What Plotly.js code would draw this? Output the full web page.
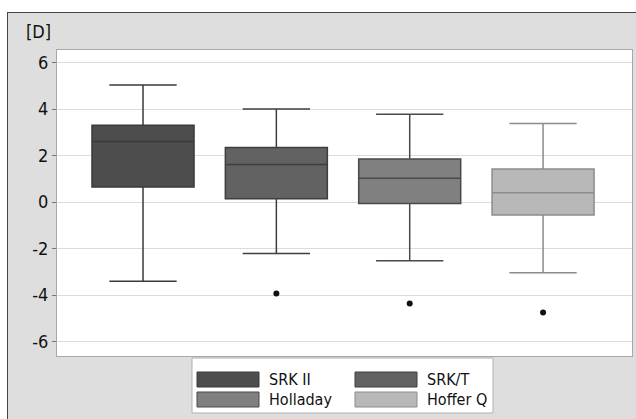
<!DOCTYPE html>
<html><head><meta charset="utf-8">
<script src="https://cdn.plot.ly/plotly-3.0.1.min.js"></script>
<style>
html,body{margin:0;padding:0;background:#fff;}
#wrap{position:absolute;left:7px;top:12px;width:629px;height:407px;border-top:1px solid #444;border-left:1px solid #444;background:#dedede;}
#chart{width:629px;height:407px;}
</style></head><body>
<div id="wrap"><div id="chart"></div></div>
<script>
const categories = ["SRK II", "SRK/T", "Holladay", "Hoffer Q"];
const lowerWhisker = [-3.4, -2.21, -2.52, -3.04];
const q1Values = [0.65, 0.14, -0.06, -0.56];
const medianValues = [2.6, 1.62, 1.02, 0.40];
const q3Values = [3.3, 2.35, 1.85, 1.42];
const upperWhisker = [5.03, 4.0, 3.78, 3.38];
const outliers = [[], [-3.93], [-4.36], [-4.75]];
const fillColors = ["#4d4d4d", "#626262", "#808080", "#b8b8b8"];
const lineColors = ["#3a3a3a", "#3e3e3e", "#4a4a4a", "#8c8c8c"];
const yTicks = [-6, -4, -2, 0, 2, 4, 6];
const FONT = '"DejaVu Sans Condensed", "Liberation Sans", Arial, sans-serif';

const traces = [];
categories.forEach((c, i) => {
  traces.push({
    type: 'box', name: c, x: [i],
    q1: [q1Values[i]], median: [medianValues[i]], q3: [q3Values[i]],
    lowerfence: [lowerWhisker[i]], upperfence: [upperWhisker[i]],
    width: 0.765, whiskerwidth: 0.66,
    fillcolor: fillColors[i],
    line: {color: lineColors[i], width: 1.5},
    showlegend: false, hoverinfo: 'skip'
  });
  if (outliers[i].length) {
    traces.push({
      type: 'scatter', mode: 'markers', x: outliers[i].map(() => i), y: outliers[i],
      marker: {color: '#111', size: 6}, showlegend: false, hoverinfo: 'skip'
    });
  }
});

// manual legend (pixel positions relative to plot area)
const plotL = 57, plotR = 632, plotT = 50, plotB = 356;
const px = v => (v - plotL) / (plotR - plotL);
const py = v => (plotB - v) / (plotB - plotT);
const shapes = [{type:'rect', xref:'paper', yref:'paper', x0:px(192), x1:px(493), y0:py(413), y1:py(358),
  fillcolor:'#ffffff', line:{color:'#b0b0b0', width:1}, layer:'above'}];
const annotations = [{xref:'paper', yref:'paper', x:px(24), y:py(31), text:'[D]', showarrow:false,
  xanchor:'left', yanchor:'middle', font:{size:18, color:'#111', family: FONT}}];
const cols = [197, 355], rows = [372, 392];
categories.forEach((c, i) => {
  const col = i % 2, row = Math.floor(i / 2);
  shapes.push({type:'rect', xref:'paper', yref:'paper', x0:px(cols[col]), x1:px(cols[col] + 62),
    y0:py(rows[row] + 15), y1:py(rows[row]), fillcolor:fillColors[i], line:{color:lineColors[i], width:1}, layer:'above'});
  annotations.push({xref:'paper', yref:'paper', x:px(cols[col] + 70), y:py(rows[row] + 7.5), text:c,
    showarrow:false, xanchor:'left', yanchor:'middle', font:{size:16, color:'#111', family: FONT}});
});

const layout = {
  width: 629, height: 407,
  margin: {l: 49, r: 5, t: 37, b: 64},
  paper_bgcolor: 'rgba(0,0,0,0)', plot_bgcolor: '#ffffff',
  font: {family: FONT, size: 16, color: '#111'},
  showlegend: false,
  xaxis: {range: [-0.645, 3.667], showticklabels: false, ticks: '', showgrid: false, zeroline: false,
    showline: true, linecolor: '#a8a8a8', mirror: true, fixedrange: true},
  yaxis: {range: [-6.62, 6.54], tickvals: yTicks, ticktext: yTicks.map(String), ticks: 'outside', ticklen: 4,
    tickcolor: '#777', showgrid: true, gridcolor: '#dcdcdc', zeroline: false,
    showline: true, linecolor: '#a8a8a8', mirror: true, tickfont: {size: 18, color: '#111', family: FONT}, fixedrange: true},
  shapes: shapes, annotations: annotations
};
Plotly.newPlot('chart', traces, layout, {displayModeBar: false, staticPlot: true});
</script></body></html>
